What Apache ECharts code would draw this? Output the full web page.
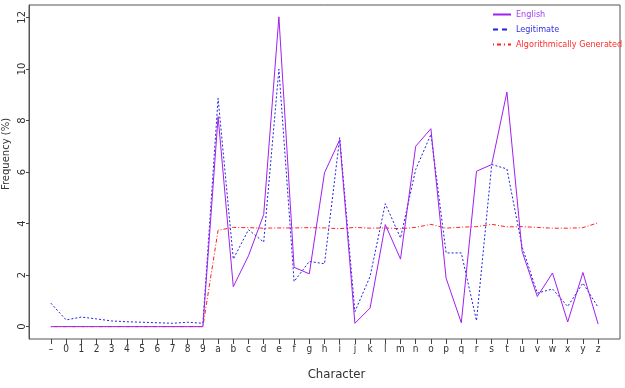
<!DOCTYPE html>
<html>
<head>
<meta charset="utf-8">
<script src="https://cdn.jsdelivr.net/npm/echarts@6/dist/echarts.min.js"></script>
<style>
  html, body { margin: 0; padding: 0; background: #fff; }
  #chart { width: 625px; height: 388px; }
</style>
</head>
<body>
<div id="chart"></div>
<script>
// characters on the x axis
var characters = ['–', '0', '1', '2', '3', '4', '5', '6', '7', '8', '9',
  'a', 'b', 'c', 'd', 'e', 'f', 'g', 'h', 'i', 'j', 'k', 'l', 'm',
  'n', 'o', 'p', 'q', 'r', 's', 't', 'u', 'v', 'w', 'x', 'y', 'z'];

// frequency (%) per character
var english = [0, 0, 0, 0, 0, 0, 0, 0, 0, 0, 0,
  8.15, 1.55, 2.75, 4.35, 12.02, 2.3, 2.05, 5.97, 7.25, 0.13, 0.72, 3.96, 2.62,
  7.0, 7.68, 1.88, 0.15, 6.03, 6.29, 9.1, 2.92, 1.17, 2.08, 0.18, 2.1, 0.1];
var legitimate = [0.91, 0.26, 0.37, 0.3, 0.22, 0.19, 0.17, 0.15, 0.13, 0.17, 0.13,
  8.86, 2.62, 3.76, 3.28, 9.99, 1.75, 2.53, 2.44, 7.33, 0.58, 1.95, 4.77, 3.44,
  6.1, 7.46, 2.86, 2.86, 0.23, 6.29, 6.12, 3.1, 1.3, 1.46, 0.78, 1.69, 0.75];
var algorithmic = [0, 0, 0, 0, 0, 0, 0, 0, 0, 0, 0,
  3.74, 3.85, 3.84, 3.82, 3.83, 3.83, 3.84, 3.83, 3.8, 3.85, 3.82, 3.83, 3.8,
  3.85, 3.97, 3.82, 3.86, 3.88, 3.97, 3.87, 3.88, 3.85, 3.82, 3.82, 3.84, 4.03];

var yTicks = [0, 2, 4, 6, 8, 10, 12];

var chart = echarts.init(document.getElementById('chart'));

function pairs(arr) {
  return arr.map(function (v, i) { return [i, v]; });
}
var xIdx = characters.map(function (c, i) { return i; });

var option = {
  animation: false,
  backgroundColor: '#fff',
  grid: {
    left: 29, right: 5, top: 5, bottom: 49,
    outerBoundsMode: 'none',
    containLabel: false,
    show: true, borderColor: '#555', borderWidth: 1,
    backgroundColor: 'transparent'
  },
  legend: {
    orient: 'vertical',
    left: 487,
    top: 5,
    itemWidth: 18,
    itemHeight: 8,
    itemGap: 6,
    textStyle: { fontFamily: 'DejaVu Sans Condensed, sans-serif', fontSize: 9 },
    data: [
      { name: 'English', textStyle: { color: '#A63CEB' }, itemStyle: { opacity: 0 } },
      { name: 'Legitimate', textStyle: { color: '#3030E0' }, itemStyle: { opacity: 0 },
        lineStyle: { width: 2, type: [5, 4] } },
      { name: 'Algorithmically Generated', textStyle: { color: '#FF2A2A' }, itemStyle: { opacity: 0 },
        lineStyle: { width: 2, type: [1, 3, 4, 3] } }
    ]
  },
  xAxis: {
    type: 'value',
    min: -1.44,
    max: 37.44,
    splitLine: { show: false },
    axisLine: { show: false, onZero: false },
    axisTick: { show: true, length: 5, customValues: xIdx, lineStyle: { color: '#444' } },
    axisLabel: {
      customValues: xIdx,
      margin: 5,
      color: '#333',
      fontFamily: 'DejaVu Sans Condensed, DejaVu Sans, sans-serif',
      fontSize: 10,
      formatter: function (v) { return characters[Math.round(v)]; }
    },
    name: 'Character',
    nameLocation: 'middle',
    nameGap: 29,
    nameMoveOverlap: false,
    nameTextStyle: {
      color: '#333',
      fontFamily: 'DejaVu Sans Condensed, DejaVu Sans, sans-serif',
      fontSize: 13,
      padding: [0, 0, 0, 24]
    }
  },
  yAxis: {
    type: 'value',
    min: -0.48,
    max: 12.48,
    splitLine: { show: false },
    axisLine: { show: true, onZero: false, lineStyle: { color: '#555', width: 1 } },
    axisTick: { show: true, length: 3, customValues: yTicks, lineStyle: { color: '#444' } },
    axisLabel: {
      customValues: yTicks,
      rotate: 90,
      margin: 2,
      color: '#333',
      fontFamily: 'DejaVu Sans, sans-serif',
      fontSize: 10
    },
    name: 'Frequency (%)',
    nameLocation: 'middle',
    nameGap: 18,
    nameMoveOverlap: false,
    nameTextStyle: {
      color: '#333',
      fontFamily: 'DejaVu Sans, sans-serif',
      fontSize: 10,
      padding: [0, 0, 0, 36]
    }
  },
  series: [
    {
      name: 'English',
      type: 'line',
      data: pairs(english),
      symbol: 'none',
      color: '#A020F0',
      lineStyle: { color: '#A020F0', width: 1 },
      z: 3
    },
    {
      name: 'Legitimate',
      type: 'line',
      data: pairs(legitimate),
      symbol: 'none',
      color: '#2020E0',
      lineStyle: { color: '#2020E0', width: 1, type: [2, 2] },
      z: 2
    },
    {
      name: 'Algorithmically Generated',
      type: 'line',
      data: pairs(algorithmic),
      symbol: 'none',
      color: '#FF2020',
      lineStyle: { color: '#FF2020', width: 1, type: [1, 2, 4, 2] },
      z: 1
    }
  ]
};

chart.setOption(option);
</script>
</body>
</html>
